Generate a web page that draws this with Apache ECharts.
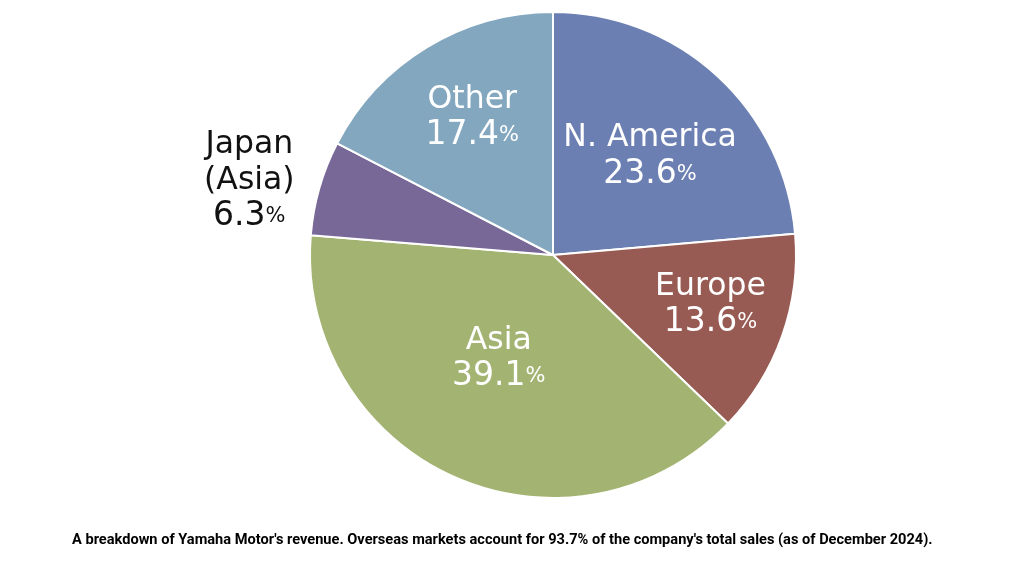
<!DOCTYPE html>
<html><head><meta charset="utf-8">
<script src="https://cdn.jsdelivr.net/npm/echarts@6/dist/echarts.min.js"></script>
<style>html,body{margin:0;padding:0;background:#fff}#c{width:1024px;height:576px}</style>
</head><body><div id="c"></div>
<script>
var categories = ['N. America', 'Europe', 'Asia', 'Japan\n(Asia)', 'Other'];
var values = [23.6, 13.6, 39.1, 6.3, 17.4];
var colors = ['#6c7fb2', '#985b53', '#a3b472', '#786897', '#83a7bf'];
var caption = "A breakdown of Yamaha Motor's revenue. Overseas markets account for 93.7% of the company's total sales (as of December 2024).";

var offsets = [[13,-7],[40,8],[-3,-10],[-184,-40],[-16,-31]];
var chart = echarts.init(document.getElementById('c'));
chart.setOption({
  animation: false,
  title: {
    text: caption, left: 67, top: 528,
    textStyle: {fontFamily: 'Roboto', fontWeight: 700, fontSize: 14.6, color: '#000'}
  },
  series: [{
    type: 'pie',
    center: [553, 255],
    radius: [0, 243],
    startAngle: 90,
    clockwise: true,
    itemStyle: {borderColor: '#fff', borderWidth: 2},
    label: {
      position: 'inside',
      color: '#fff',
      lineHeight: 36,
      formatter: function (p) {
        var lines = p.name.split('\n').map(function (s) { return '{n|' + s + '}'; });
        return lines.join('\n') + '\n{v|' + p.value.toFixed(1) + '}{p|%}';
      },
      rich: {
        n: {fontFamily: 'DejaVu Sans', fontSize: 31.5, fontWeight: 400, lineHeight: 36},
        v: {fontFamily: 'DejaVu Sans', fontSize: 33, fontWeight: 400, lineHeight: 36},
        p: {fontFamily: 'DejaVu Sans', fontSize: 21, fontWeight: 400, lineHeight: 36}
      }
    },
    labelLine: {show: false},
    labelLayout: function (params) {
      var o = offsets[params.dataIndex];
      return {dx: o[0], dy: o[1]};
    },
    emphasis: {disabled: true},
    data: categories.map(function (c, i) {
      var d = {name: c, value: values[i], itemStyle: {color: colors[i]}};
      if (i === 3) d.label = {color: '#111'};
      return d;
    })
  }]
});
</script></body></html>
